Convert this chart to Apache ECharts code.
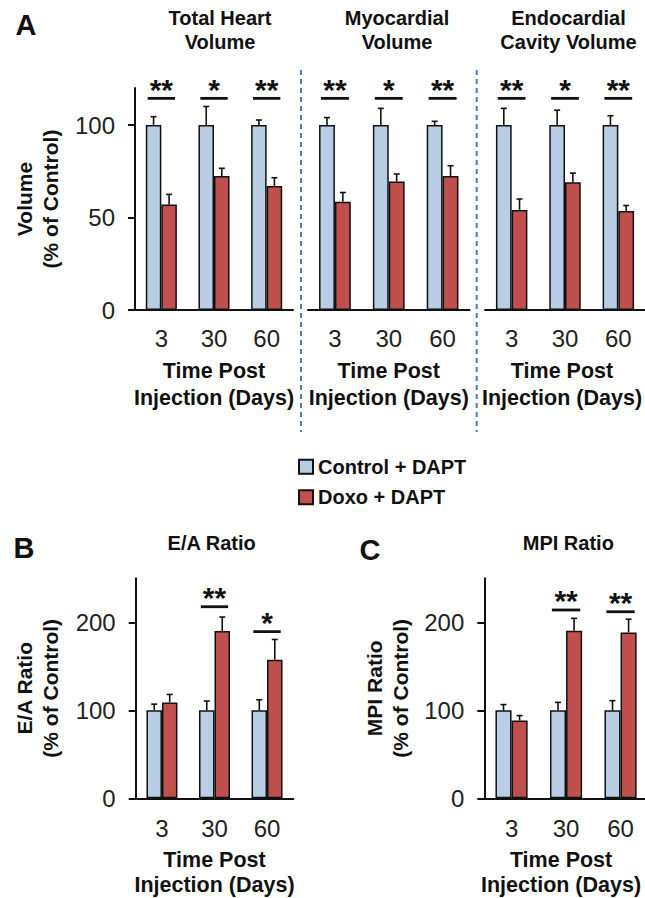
<!DOCTYPE html>
<html>
<head>
<meta charset="utf-8">
<script src="https://cdn.jsdelivr.net/npm/echarts@6/dist/echarts.min.js"></script>
<style>
html, body { margin: 0; padding: 0; background: #fff; }
#chart { width: 645px; height: 898px; }
</style>
</head>
<body>
<div id="chart"></div>
<script>
// ---- data ----
const days = ['3', '30', '60'];
const seriesNames = ['Control + DAPT', 'Doxo + DAPT'];

// A - volumes (% of control)
const totalCtrl = [100, 100, 100];
const totalCtrlErr = [4.5, 10, 2.7];
const totalDoxo = [57, 72.4, 67];
const totalDoxoErr = [5.5, 4.2, 4.5];

const myoCtrl = [100, 100, 100];
const myoCtrlErr = [4, 9, 2];
const myoDoxo = [58.5, 69.5, 72.5];
const myoDoxoErr = [5, 4, 5.5];

const endoCtrl = [100, 100, 100];
const endoCtrlErr = [9, 8, 5];
const endoDoxo = [54, 69, 53.5];
const endoDoxoErr = [6, 5, 3];

// B - E/A ratio, C - MPI ratio
const eaCtrl = [100, 100, 100];
const eaCtrlErr = [7, 10.5, 12];
const eaDoxo = [109, 190, 157.5];
const eaDoxoErr = [9, 16, 23];

const mpiCtrl = [100, 100, 100];
const mpiCtrlErr = [6.5, 9, 11];
const mpiDoxo = [88.5, 190.5, 188.5];
const mpiDoxoErr = [5.5, 14, 15];

const volumeTicks = [0, 50, 100];
const ratioTicks = [0, 100, 200];

// significance brackets: label and height per day
const volumeSig = ['**', '*', '**'];
const volumeSigY = [114.4, 114.4, 114.4];
const eaSig = ['', '**', '*'];
const eaSigY = [null, 217.7, 189.4];
const mpiSig = ['', '**', '**'];
const mpiSigY = [null, 214, 212];

// ---- layout ----
const FONT = '"Liberation Sans", Arial, Helvetica, sans-serif';
const INK = '#111';
const BLUE = '#b9cde5';
const RED = '#c0504d';
const BAR_FRAC = 0.295;

const panels = [
    { grid: { left: 135, top: 88, width: 158, height: 222 }, max: 120, ticks: volumeTicks, showY: true,
      yName: 'Volume\n(% of Control)', yGap: 72, xGap: 47, xLine: 27, xMargin: 16, xShift: 0,
      ctrl: totalCtrl, ctrlErr: totalCtrlErr, doxo: totalDoxo, doxoErr: totalDoxoErr, sig: volumeSig, sigY: volumeSigY },
    { grid: { left: 308, top: 88, width: 161.5, height: 222 }, max: 120, ticks: volumeTicks, showY: false,
      xGap: 47, xLine: 27, xMargin: 16, xShift: 0,
      ctrl: myoCtrl, ctrlErr: myoCtrlErr, doxo: myoDoxo, doxoErr: myoDoxoErr, sig: volumeSig, sigY: volumeSigY },
    { grid: { left: 485, top: 88, width: 160, height: 222 }, max: 120, ticks: volumeTicks, showY: false,
      xGap: 47, xLine: 27, xMargin: 16, xShift: 6,
      ctrl: endoCtrl, ctrlErr: endoCtrlErr, doxo: endoDoxo, doxoErr: endoDoxoErr, sig: volumeSig, sigY: volumeSigY },
    { grid: { left: 135.7, top: 578.3, width: 157.6, height: 220 }, max: 250, ticks: ratioTicks, showY: true,
      yName: 'E/A Ratio\n(% of Control)', yGap: 72, xGap: 49, xLine: 25, xMargin: 18, xShift: 0,
      ctrl: eaCtrl, ctrlErr: eaCtrlErr, doxo: eaDoxo, doxoErr: eaDoxoErr, sig: eaSig, sigY: eaSigY },
    { grid: { left: 484.3, top: 578.3, width: 163.5, height: 220 }, max: 250, ticks: ratioTicks, showY: true,
      yName: 'MPI Ratio\n(% of Control)', yGap: 71, xGap: 49, xLine: 25, xMargin: 18, xShift: 10,
      ctrl: mpiCtrl, ctrlErr: mpiCtrlErr, doxo: mpiDoxo, doxoErr: mpiDoxoErr, sig: mpiSig, sigY: mpiSigY }
];

function errorBar(side) {
    return function (params, api) {
        const k = api.value(0);
        const base = api.coord([k, api.value(1)]);
        const top = api.coord([k, api.value(1) + api.value(2)]);
        const bw = api.size([1, 0])[0] * BAR_FRAC;
        const x = base[0] + side * bw / 2;
        const st = { stroke: INK, lineWidth: 1.6 };
        return {
            type: 'group',
            children: [
                { type: 'line', shape: { x1: x, y1: base[1], x2: x, y2: top[1] }, style: st },
                { type: 'line', shape: { x1: x - 3, y1: top[1], x2: x + 3, y2: top[1] }, style: st }
            ]
        };
    };
}

function sigMark(labels) {
    return function (params, api) {
        const k = api.value(0);
        const pt = api.coord([k, api.value(1)]);
        const hw = api.size([1, 0])[0] * 0.26;
        return {
            type: 'group',
            children: [
                { type: 'line', shape: { x1: pt[0] - hw, y1: pt[1], x2: pt[0] + hw, y2: pt[1] },
                  style: { stroke: INK, lineWidth: 2.8 } },
                { type: 'text', x: pt[0], y: pt[1] - 9,
                  style: { text: labels[k], fontFamily: FONT, fontSize: 30, fontWeight: 'bold', fill: INK,
                           align: 'center', verticalAlign: 'middle' } }
            ]
        };
    };
}

const option = {
    animation: false,
    backgroundColor: '#fff',
    grid: [], xAxis: [], yAxis: [], series: [],
    legend: {
        orient: 'vertical', left: 298, top: 456.7, padding: 0,
        itemWidth: 14, itemHeight: 14, itemGap: 10.6, icon: 'rect',
        selectedMode: false,
        data: seriesNames,
        textStyle: { fontFamily: FONT, fontSize: 20, fontWeight: 'bold', color: INK, lineHeight: 20 }
    },
    graphic: []
};

panels.forEach(function (p, i) {
    option.grid.push(Object.assign({ containLabel: false, outerBoundsMode: 'none' }, p.grid));
    option.xAxis.push({
        type: 'category', gridIndex: i, data: days,
        axisLine: { lineStyle: { color: INK, width: 2 } },
        axisTick: { length: 6, lineStyle: { color: INK, width: 2 } },
        axisLabel: { fontFamily: FONT, fontSize: 24, color: '#222', margin: p.xMargin },
        name: 'Time Post\nInjection (Days)', nameLocation: 'middle', nameGap: p.xGap,
        nameTextStyle: { fontFamily: FONT, fontSize: 21.5, fontWeight: 'bold', color: INK,
                         lineHeight: p.xLine, padding: [0, p.xShift, 0, 0] }
    });
    option.yAxis.push({
        type: 'value', gridIndex: i, min: 0, max: p.max, show: p.showY,
        splitLine: { show: false },
        axisLine: { show: true, lineStyle: { color: INK, width: 2 } },
        axisTick: { show: true, length: 7, customValues: p.ticks, lineStyle: { color: INK, width: 2 } },
        axisLabel: { customValues: p.ticks, fontFamily: FONT, fontSize: 24, color: '#222', margin: 20 },
        name: p.yName || '', nameLocation: 'middle', nameRotate: 90, nameGap: p.yGap,
        nameTextStyle: { fontFamily: FONT, fontSize: 21, fontWeight: 'bold', color: INK, lineHeight: 26 }
    });
    option.series.push(
        { type: 'bar', name: seriesNames[0], xAxisIndex: i, yAxisIndex: i, data: p.ctrl,
          barWidth: (BAR_FRAC * 100) + '%', barGap: '0%',
          itemStyle: { color: BLUE, borderColor: INK, borderWidth: 1.5 } },
        { type: 'bar', name: seriesNames[1], xAxisIndex: i, yAxisIndex: i, data: p.doxo,
          barWidth: (BAR_FRAC * 100) + '%', barGap: '0%',
          itemStyle: { color: RED, borderColor: INK, borderWidth: 1.5 } },
        { type: 'custom', xAxisIndex: i, yAxisIndex: i, z: 5, silent: true,
          encode: { x: 0, y: 1 }, renderItem: errorBar(-1),
          data: p.ctrl.map(function (v, k) { return [k, v, p.ctrlErr[k]]; }) },
        { type: 'custom', xAxisIndex: i, yAxisIndex: i, z: 5, silent: true,
          encode: { x: 0, y: 1 }, renderItem: errorBar(1),
          data: p.doxo.map(function (v, k) { return [k, v, p.doxoErr[k]]; }) },
        { type: 'custom', xAxisIndex: i, yAxisIndex: i, z: 6, silent: true,
          encode: { x: 0, y: 1 }, renderItem: sigMark(p.sig),
          data: p.sigY.map(function (y, k) { return [k, y]; }).filter(function (d) { return d[1] != null; }) }
    );
});

// headings, panel letters and the dashed separators
function label(text, x, y, size, lh) {
    return { type: 'text', x: x, y: y, silent: true,
             style: { text: text, fontFamily: FONT, fontSize: size, fontWeight: 'bold', fill: INK,
                      align: 'center', verticalAlign: 'middle', lineHeight: lh || size } };
}
option.graphic.push(
    label('A', 26, 25, 29),
    label('B', 24, 548, 29),
    label('C', 370, 550, 29),
    label('Total Heart\nVolume', 220, 30, 20, 24),
    label('Myocardial\nVolume', 397, 30, 20, 24),
    label('Endocardial\nCavity Volume', 568.5, 30, 20, 24),
    label('E/A Ratio', 211.7, 543, 20),
    label('MPI Ratio', 568.3, 543, 20)
);
[301, 476.7].forEach(function (x) {
    option.graphic.push({ type: 'line', silent: true,
        shape: { x1: x, y1: 70, x2: x, y2: 432 },
        style: { stroke: '#4a7ebb', lineWidth: 2, lineDash: [5, 4] } });
});

const chart = echarts.init(document.getElementById('chart'), null, { renderer: 'svg' });
chart.setOption(option);
</script>
</body>
</html>
